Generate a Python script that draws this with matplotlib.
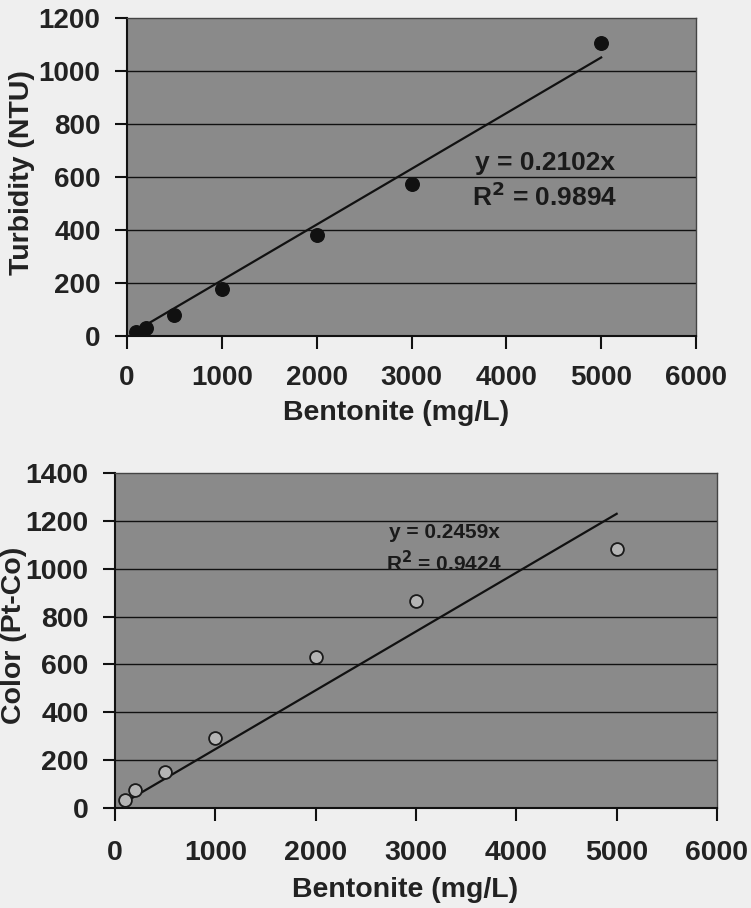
import matplotlib
matplotlib.use("Agg")
import matplotlib.pyplot as plt
import numpy as np

plt.rcParams['font.family'] = ['Liberation Sans', 'DejaVu Sans']
plt.rcParams['font.weight'] = 'bold'

# Data
bentonite = [100, 200, 500, 1000, 2000, 3000, 5000]
turbidity = [16, 31, 79, 178, 381, 572, 1107]
color_ptco = [35, 74, 152, 293, 630, 865, 1082]
slope_turb = 0.2102
r2_turb = 0.9894
slope_color = 0.2459
r2_color = 0.9424
x_ticks = [0, 1000, 2000, 3000, 4000, 5000, 6000]
y_ticks_top = [0, 200, 400, 600, 800, 1000, 1200]
y_ticks_bot = [0, 200, 400, 600, 800, 1000, 1200, 1400]

W, H = 751, 908
fig = plt.figure(figsize=(W / 100, H / 100), dpi=100)
fig.patch.set_facecolor('#efefef')

def px_axes(l, r, t, b):
    return fig.add_axes([l / W, 1 - b / H, (r - l) / W, (b - t) / H])

ax1 = px_axes(127, 696, 18, 336)
ax2 = px_axes(115, 717, 473, 808)

def style(ax, yticks, ylabel, tick_fs, xpad, ylab_x, xlab_x):
    ax.set_facecolor('#8a8a8a')
    ax.set_xlim(0, 6000)
    ax.set_ylim(0, yticks[-1])
    ax.set_xticks(x_ticks)
    ax.set_yticks(yticks)
    ax.set_xticklabels([str(v) for v in x_ticks])
    ax.set_yticklabels([str(v) for v in yticks])
    for yv in yticks[1:-1]:
        ax.axhline(yv, color='#111111', lw=1.0, zorder=1)
    for s in ['left', 'bottom']:
        ax.spines[s].set_color('#111111')
        ax.spines[s].set_linewidth(1.5)
    for s in ['top', 'right']:
        ax.spines[s].set_color('#444444')
        ax.spines[s].set_linewidth(1.0)
    ax.tick_params(axis='both', direction='out', length=9, width=1.5,
                   color='#111111', labelsize=tick_fs, labelcolor='#222222')
    ax.tick_params(axis='x', pad=xpad)
    ax.tick_params(axis='y', pad=10)
    ax.set_xlabel('Bentonite (mg/L)', fontsize=20.5, fontweight='bold', color='#222222', va='center')
    ax.xaxis.set_label_coords(xlab_x[0], xlab_x[1])
    ax.set_ylabel(ylabel, fontsize=20.5, fontweight='bold', color='#222222', va='center')
    ax.yaxis.set_label_coords(ylab_x[0], ylab_x[1])

style(ax1, y_ticks_top, 'Turbidity (NTU)', 20, 12, (-0.1845, 0.513), (0.473, -0.242))
style(ax2, y_ticks_bot, 'Color (Pt-Co)', 20.5, 14, (-0.167, 0.516), (0.4817, -0.245))

xfit = np.array([min(bentonite), max(bentonite)])
ax1.plot(xfit, slope_turb * xfit, color='#111111', lw=1.6, zorder=3)
ax1.scatter(bentonite, turbidity, s=95, color='#111111', zorder=4)
ax1.text(0.735, 0.544, f'y = {slope_turb}x', transform=ax1.transAxes, ha='center', va='center',
         fontsize=19, fontweight='bold', color='#1a1a1a')
ax1.text(0.735, 0.437, f'R$^2$ = {r2_turb}', transform=ax1.transAxes, ha='center', va='center',
         fontsize=19, fontweight='bold', color='#1a1a1a')

ax2.plot(xfit, slope_color * xfit, color='#111111', lw=1.6, zorder=3)
ax2.scatter(bentonite, color_ptco, s=85, facecolor='#b4b4b4', edgecolor='#1a1a1a', lw=1.3, zorder=4)
ax2.text(0.5465, 0.821, f'y = {slope_color}x', transform=ax2.transAxes, ha='center', va='center',
         fontsize=15, fontweight='bold', color='#1a1a1a')
ax2.text(0.5465, 0.734, f'R$^2$ = {r2_color}', transform=ax2.transAxes, ha='center', va='center',
         fontsize=15, fontweight='bold', color='#1a1a1a')

fig.savefig('out.png', dpi=100, facecolor=fig.get_facecolor())
